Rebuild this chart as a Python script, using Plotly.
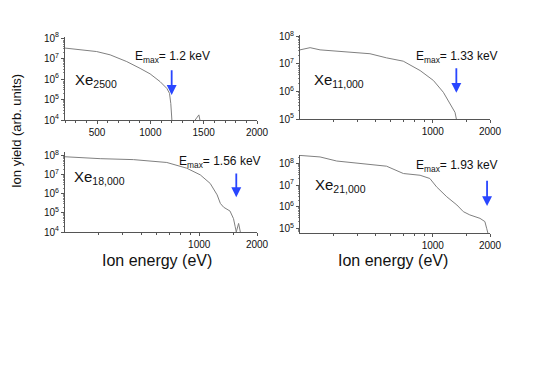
import numpy as np
import plotly.graph_objects as go

W, H = 545, 385

# --- data ---
e1 = [200, 278, 403, 497, 623, 779, 904, 998, 1092, 1155, 1180, 1192, 1202, None, 1420, 1440, 1455, 1465]
y1 = [7.51, 7.46, 7.39, 7.34, 7.18, 6.85, 6.52, 6.25, 5.87, 5.54, 5.30, 4.8, 4.0, None, 4.0, 4.15, 4.25, 4.0]

e2 = [200, 226, 255, 312, 382, 467, 571, 699, 857, 1007, 1136, 1257, 1309, 1336]
y2 = [7.51, 7.59, 7.51, 7.47, 7.42, 7.37, 7.22, 7.10, 6.76, 6.40, 5.97, 5.48, 5.24, 4.94]

e3 = [200, 249, 305, 454, 678, 861, 1013, 1141, 1240, 1289, 1341, 1447, 1509, 1538, 1560, 1604, 1620, 1638]
y3 = [7.95, 7.9, 7.85, 7.8, 7.65, 7.35, 7.0, 6.55, 5.95, 5.5, 5.3, 5.1, 4.7, 4.3, 4.0, 4.45, 4.2, 4.0]

e4 = [200, 255, 312, 382, 467, 571, 700, 857, 965, 1047, 1185, 1339, 1448, 1566, 1771, 1880, 1920, 1960]
y4 = [8.38, 8.31, 8.12, 8.03, 7.97, 7.88, 7.54, 7.46, 7.31, 6.92, 6.46, 6.08, 5.77, 5.62, 5.46, 5.31, 5.0, 4.7]

labels = ["Xe<sub>2500</sub>", "Xe<sub>11,000</sub>", "Xe<sub>18,000</sub>", "Xe<sub>21,000</sub>"]
emax = [1.2, 1.33, 1.56, 1.93]
emax_txt = ["1.2", "1.33", "1.56", "1.93"]

FONT = "Arial, Liberation Sans, sans-serif"
OFF = 8  # page margin round the plot div


def fx(px):
    return (px - OFF) / W


def fy(py):
    return 1 - (py - OFF) / H


# pixel boxes: (x0, x1, ytop, ybottom)
boxes = [(65, 257, 37, 120), (300, 490, 35, 119), (65, 257, 152, 232), (300, 490, 155, 233)]
yranges = [[4, 8.05], [5, 8.05], [4, 8.2], [4.78, 8.4]]
xlog = [False, True, True, True]
series = [(e1, y1), (e2, y2), (e3, y3), (e4, y4)]
# arrow (tail, head) in log10 of yield
arrows = [(6.5, 5.22), (6.9, 5.95), (7.15, 5.83), (7.28, 6.03)]
emax_pos = [(172, 57), (457, 57), (220, 162), (457, 166)]
xe_pos = [(73, 81), (312, 80), (72, 177), (313, 186)]

fig = go.Figure()

for i, ((ex, ly), box) in enumerate(zip(series, boxes)):
    n = "" if i == 0 else str(i + 1)
    yv = [None if v is None else 10 ** v for v in ly]
    fig.add_trace(go.Scatter(x=ex, y=yv, mode="lines", xaxis="x" + n, yaxis="y" + n,
                             line=dict(color="#808080", width=1), showlegend=False,
                             connectgaps=False))
    x0, x1, yt, yb = box
    xa = dict(domain=[fx(x0), fx(x1)], anchor="y" + n, showgrid=False, zeroline=False,
              automargin=False,
              showline=True, linecolor="#555", linewidth=1, ticks="outside", ticklen=3,
              tickcolor="#555", tickfont=dict(family=FONT, size=10, color="#111"))
    if xlog[i]:
        xa.update(type="log", range=[np.log10(200), np.log10(2000)],
                  tickvals=[1000, 2000], ticktext=["1000", "2000"],
                  minor=dict(tickvals=[300, 400, 500, 600, 700, 800, 900, 1500],
                             ticks="outside", ticklen=2, tickcolor="#555"))
    else:
        xa.update(range=[200, 2000], tickvals=[500, 1000, 1500, 2000],
                  minor=dict(dtick=100, ticks="outside", ticklen=2, tickcolor="#555"))
    yd = [10 ** k for k in range(4, 9)]
    ya = dict(domain=[fy(yb), fy(yt)], anchor="x" + n, type="log", range=yranges[i],
              showgrid=False, zeroline=False, showline=True, linecolor="#555", linewidth=1,
              automargin=False, ticks="outside", ticklen=3, tickcolor="#555",
              tickvals=yd, ticktext=["10<sup>%d</sup>" % k for k in range(4, 9)],
              tickfont=dict(family=FONT, size=10, color="#111"),
              minor=dict(ticks="outside", ticklen=1, tickcolor="#888",
                         tickvals=[m * 10 ** k for k in range(4, 9) for m in range(2, 10)]))
    fig.layout["xaxis" + n] = xa
    fig.layout["yaxis" + n] = ya

    ax_x = emax[i] * 1000 if not xlog[i] else np.log10(emax[i] * 1000)
    tail, head = arrows[i]
    fig.add_annotation(x=ax_x, y=head, ax=ax_x, ay=tail, xref="x" + n, yref="y" + n,
                       axref="x" + n, ayref="y" + n, showarrow=True, arrowhead=2,
                       arrowsize=1.1, arrowwidth=1.8, arrowcolor="#2946ff", text="")
    tx, ty = emax_pos[i]
    fig.add_annotation(x=fx(tx), y=fy(ty), xref="paper", yref="paper", showarrow=False,
                       xanchor="center", yanchor="middle",
                       text="E<sub>max</sub>= %s keV" % emax_txt[i],
                       font=dict(family=FONT, size=12, color="#111"))
    px, py = xe_pos[i]
    fig.add_annotation(x=fx(px), y=fy(py), xref="paper", yref="paper", xanchor="left",
                       yanchor="middle", showarrow=False, text=labels[i],
                       font=dict(family=FONT, size=15, color="#111"))

for cx in [157, 393]:
    fig.add_annotation(x=fx(cx), y=fy(260), xref="paper", yref="paper", showarrow=False,
                       xanchor="center", yanchor="middle",
                       text="Ion energy (eV)", font=dict(family=FONT, size=16, color="#111"))

fig.add_annotation(x=fx(16), y=fy(131), xref="paper", yref="paper", showarrow=False,
                   xanchor="center", yanchor="middle",
                   textangle=-90, text="Ion yield (arb. units)",
                   font=dict(family=FONT, size=13, color="#111"))

fig.update_layout(width=W, height=H, margin=dict(l=0, r=0, t=0, b=0),
                  paper_bgcolor="white", plot_bgcolor="white", showlegend=False)

fig.write_html("out.html")
